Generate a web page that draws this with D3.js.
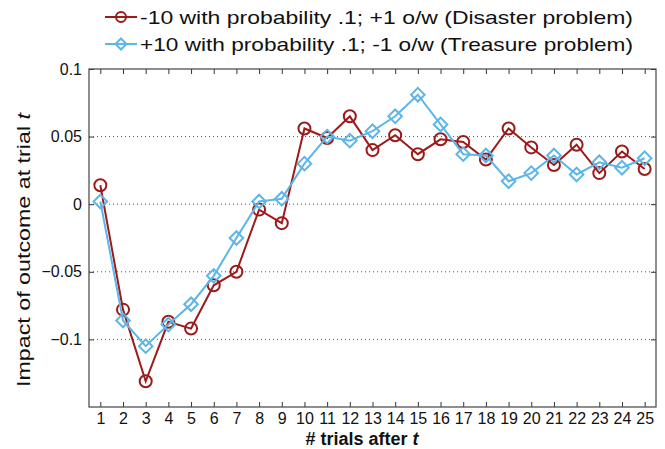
<!DOCTYPE html>
<html>
<head>
<meta charset="utf-8">
<script src="https://cdn.jsdelivr.net/npm/d3@7"></script>
<style>
  body { margin: 0; background: #fff; }
  text { font-family: "Liberation Sans", Arial, sans-serif; fill: #111; }
</style>
</head>
<body>
<svg id="chart" width="665" height="449"></svg>
<script>
// data
const trials = d3.range(1, 26);
const disaster = [0.014, -0.078, -0.131, -0.087, -0.092, -0.060, -0.050, -0.004, -0.014, 0.056,
  0.049, 0.065, 0.040, 0.051, 0.037, 0.048, 0.046, 0.033, 0.056, 0.042,
  0.029, 0.044, 0.023, 0.039, 0.026];
const treasure = [0.002, -0.086, -0.105, -0.089, -0.074, -0.053, -0.025, 0.002, 0.004, 0.030,
  0.050, 0.047, 0.054, 0.065, 0.081, 0.059, 0.037, 0.036, 0.017, 0.023,
  0.036, 0.022, 0.031, 0.027, 0.034];
const yTicks = [-0.1, -0.05, 0, 0.05, 0.1];
const legendLabels = [
  "-10 with probability .1; +1 o/w (Disaster problem)",
  "+10 with probability .1; -1 o/w (Treasure problem)"
];

const red = "#9c1a1a", blue = "#5cb6e8";

const svg = d3.select("#chart");
const margin = { top: 69, right: 9, bottom: 42, left: 89 };
const W = 665 - margin.left - margin.right;
const H = 449 - margin.top - margin.bottom;

const g = svg.append("g").attr("transform", `translate(${margin.left},${margin.top})`);

const x = d3.scaleLinear().domain([0.5, 25.5]).range([0, W]);
const y = d3.scaleLinear().domain([-0.15, 0.1]).range([H, 0]);

// dotted grid lines
g.selectAll(".grid").data(yTicks.filter(d => d < 0.1)).enter().append("line")
  .attr("x1", 0).attr("x2", W)
  .attr("y1", d => y(d)).attr("y2", d => y(d))
  .attr("stroke", "#555").attr("stroke-width", 1).attr("stroke-dasharray", "1,3");

// axes (ticks pointing inwards, box style)
const styleAxis = sel => {
  sel.select(".domain").remove();
  sel.selectAll("line").attr("stroke", "#333");
  sel.selectAll("text").style("font-size", "16px").attr("fill", "#111");
};
g.append("g").attr("transform", `translate(0,${H})`)
  .call(d3.axisBottom(x).tickValues(trials).tickSize(-5).tickPadding(6).tickFormat(d3.format("d")))
  .call(styleAxis);
g.append("g")
  .call(d3.axisTop(x).tickValues(trials).tickSize(-5).tickFormat(""))
  .call(styleAxis);
g.append("g")
  .call(d3.axisLeft(y).tickValues(yTicks).tickSize(-5).tickPadding(7).tickFormat(d => d === 0 ? "0" : d3.format("")(d)))
  .call(styleAxis);
g.append("g").attr("transform", `translate(${W},0)`)
  .call(d3.axisRight(y).tickValues(yTicks).tickSize(-5).tickFormat(""))
  .call(styleAxis);

g.append("rect").attr("width", W).attr("height", H)
  .attr("fill", "none").attr("stroke", "#444").attr("stroke-width", 1.2);

const line = d3.line().x((d, i) => x(trials[i])).y(d => y(d));

// disaster series (circles)
g.append("path").datum(disaster).attr("d", line)
  .attr("fill", "none").attr("stroke", red).attr("stroke-width", 2);
g.selectAll(".dis").data(disaster).enter().append("circle")
  .attr("cx", (d, i) => x(trials[i])).attr("cy", d => y(d)).attr("r", 6)
  .attr("fill", "none").attr("stroke", red).attr("stroke-width", 2);

// treasure series (diamonds)
const diamond = d3.symbol().type(d3.symbolSquare).size(92);
g.append("path").datum(treasure).attr("d", line)
  .attr("fill", "none").attr("stroke", blue).attr("stroke-width", 2);
g.selectAll(".tre").data(treasure).enter().append("path")
  .attr("d", diamond)
  .attr("transform", (d, i) => `translate(${x(trials[i])},${y(d)}) rotate(45)`)
  .attr("fill", "none").attr("stroke", blue).attr("stroke-width", 2);

// axis titles
const xt = svg.append("text").attr("x", 362).attr("y", 445).attr("text-anchor", "middle")
  .style("font-size", "18px").style("font-weight", "bold");
xt.append("tspan").text("# trials after ");
xt.append("tspan").style("font-style", "italic").text("t");

const yt = svg.append("text").attr("transform", "translate(30,113) rotate(-90)")
  .attr("text-anchor", "end").style("font-size", "18px")
  .attr("textLength", 274).attr("lengthAdjust", "spacingAndGlyphs");
yt.append("tspan").text("Impact of outcome at trial  ");
yt.append("tspan").style("font-style", "italic").text("t");

// legend
const legend = svg.append("g");
const legendY = [17, 44];
legendLabels.forEach((lab, i) => {
  const col = i === 0 ? red : blue;
  const ly = legendY[i];
  legend.append("line").attr("x1", 105).attr("x2", 137).attr("y1", ly).attr("y2", ly)
    .attr("stroke", col).attr("stroke-width", 2);
  if (i === 0) {
    legend.append("circle").attr("cx", 121).attr("cy", ly).attr("r", 5)
      .attr("fill", "none").attr("stroke", col).attr("stroke-width", 2);
  } else {
    legend.append("path").attr("d", d3.symbol().type(d3.symbolSquare).size(60))
      .attr("transform", `translate(121,${ly}) rotate(45)`)
      .attr("fill", "none").attr("stroke", col).attr("stroke-width", 2);
  }
  legend.append("text").attr("x", 140).attr("y", ly + 7)
    .style("font-size", "19px")
    .attr("textLength", 493).attr("lengthAdjust", "spacingAndGlyphs")
    .text(lab);
});
</script>
</body>
</html>
